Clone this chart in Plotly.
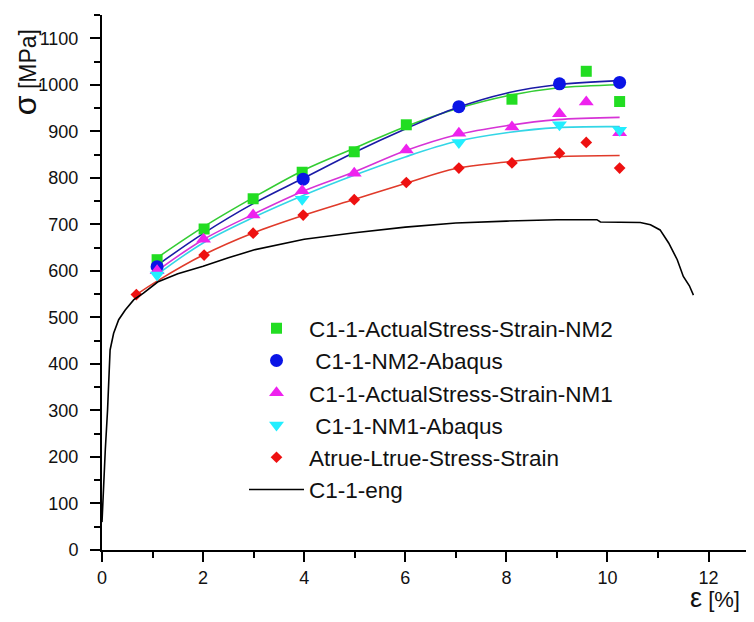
import plotly.graph_objects as go

# measured points (strain %, stress MPa)
nm2_act_x = [1.09, 2.02, 2.99, 3.96, 4.99, 6.02, 8.11, 9.58, 10.24]
nm2_act_y = [624, 690, 755, 812, 856, 914, 969, 1029, 964]

nm2_abq_x = [1.09, 3.98, 7.06, 9.05, 10.24]
nm2_abq_y = [609, 797, 953, 1002, 1005]

nm1_act_x = [1.09, 2.01, 2.99, 3.96, 4.99, 6.02, 7.06, 8.11, 9.05, 9.58, 10.24]
nm1_act_y = [600, 668, 720, 772, 810, 860, 896, 909, 938, 963, 897]

nm1_abq_x = [1.09, 3.96, 7.06, 9.05, 10.24]
nm1_abq_y = [591, 754, 876, 914, 902]

true_x = [0.68, 2.02, 2.99, 3.98, 4.99, 6.02, 7.06, 8.11, 9.05, 9.58, 10.24]
true_y = [549, 634, 681, 720, 753, 790, 821, 832, 853, 876, 821]

# fitted curves
fit_x = [1.09, 2, 3, 4, 5, 6, 7, 8, 9, 10.24]
fit_nm2_act = [628, 694, 758, 817, 864, 910, 948, 976, 993, 1000]
fit_nm2_abq = [612, 680, 745, 800, 855, 905, 950, 982, 1000, 1009]
fit_nm1_act = [600, 667, 722, 772, 813, 858, 892, 912, 925, 930]
fit_nm1_abq = [592, 660, 715, 763, 806, 845, 878, 897, 908, 910]
fit_true_x = [0.68, 1.09, 2, 3, 4, 5, 6, 7, 8, 9, 10.24]
fit_true_y = [549, 578, 634, 682, 720, 754, 788, 820, 834, 845, 848]

# engineering curve
eng_x = [0, 0.03, 0.065, 0.11, 0.16, 0.23, 0.33, 0.46, 0.63, 0.82, 1.1, 1.5, 2.0,
         2.5, 3.0, 4.0, 5.0, 6.0, 7.0, 8.0, 9.0, 9.79, 9.86, 10.65, 10.85, 11.04,
         11.21, 11.38, 11.5, 11.62, 11.70]
eng_y = [60, 140, 215, 301, 430, 466, 495, 516, 538, 552, 576, 594, 610,
         628, 645, 668, 682, 694, 703, 707, 710, 710, 705, 704, 699, 688,
         660, 624, 588, 568, 548]

x_ticks = [0, 2, 4, 6, 8, 10, 12]
y_ticks = list(range(0, 1101, 100))

FONT = "Liberation Sans, Arial, sans-serif"

fig = go.Figure()

fits = [
    (fit_x, fit_nm2_act, "#33cc33"),
    (fit_x, fit_nm2_abq, "#1a1aa6"),
    (fit_x, fit_nm1_act, "#d633d6"),
    (fit_x, fit_nm1_abq, "#33d6e6"),
    (fit_true_x, fit_true_y, "#e03a2a"),
]
for fx, fy, col in fits:
    fig.add_trace(go.Scatter(x=fx, y=fy, mode="lines", line=dict(color=col, width=1.6, shape="spline"),
                             showlegend=False, hoverinfo="skip"))

fig.add_trace(go.Scatter(x=nm2_act_x, y=nm2_act_y, mode="markers", name="C1-1-ActualStress-Strain-NM2",
                         marker=dict(symbol="square", size=11, color="#22dd22")))
fig.add_trace(go.Scatter(x=nm2_abq_x, y=nm2_abq_y, mode="markers", name="\u00a0C1-1-NM2-Abaqus",
                         marker=dict(symbol="circle", size=13, color="#0a14e6")))
fig.add_trace(go.Scatter(x=nm1_act_x, y=nm1_act_y, mode="markers", name="C1-1-ActualStress-Strain-NM1",
                         marker=dict(symbol="triangle-up", size=13, color="#ee22ee")))
fig.add_trace(go.Scatter(x=nm1_abq_x, y=nm1_abq_y, mode="markers", name="\u00a0C1-1-NM1-Abaqus",
                         marker=dict(symbol="triangle-down", size=13, color="#22eeff")))
fig.add_trace(go.Scatter(x=true_x, y=true_y, mode="markers", name="Atrue-Ltrue-Stress-Strain",
                         marker=dict(symbol="diamond", size=9, color="#ee1111")))
fig.add_trace(go.Scatter(x=eng_x, y=eng_y, mode="lines", name="C1-1-eng",
                         line=dict(color="black", width=1.6)))

# the page body has an 8px margin on every side, so the figure is kept inside the window
fig.update_layout(
    width=738, height=606,
    margin=dict(l=94, r=0, t=7, b=64),
    paper_bgcolor="white", plot_bgcolor="white",
    font=dict(family=FONT, size=18, color="#111111"),
    legend=dict(x=0.2205, y=0.454, xanchor="left", yanchor="top", bgcolor="rgba(0,0,0,0)",
                font=dict(size=22.5), tracegroupgap=0, itemwidth=55),
    xaxis=dict(range=[0, 12.74], tickvals=x_ticks, showgrid=False, zeroline=False,
               showline=True, linecolor="black", linewidth=2, ticks="outside", ticklen=10,
               tickwidth=2, tickcolor="black",
               minor=dict(dtick=1, ticks="outside", ticklen=6, tickwidth=2, tickcolor="black")),
    yaxis=dict(range=[0, 1150], tickvals=y_ticks, showgrid=False, zeroline=False,
               showline=True, linecolor="black", linewidth=2, ticks="outside", ticklen=10,
               tickwidth=2, tickcolor="black", ticklabelstandoff=8,
               minor=dict(dtick=50, tick0=0, ticks="outside", ticklen=6, tickwidth=2, tickcolor="black")),
    annotations=[
        dict(text="<span style='font-size:32px'>σ</span> [MPa]", textangle=-90, xref="paper", yref="paper",
             x=-0.1196, y=0.893, xanchor="center", yanchor="middle", showarrow=False,
             font=dict(size=23, color="#111111")),
        dict(text="<span style='font-size:27px'>ε</span> [%]", xref="paper", yref="paper",
             x=0.952, y=-0.0897, xanchor="center", yanchor="middle", showarrow=False,
             font=dict(size=22, color="#111111")),
    ],
)

fig.write_html("out.html")
